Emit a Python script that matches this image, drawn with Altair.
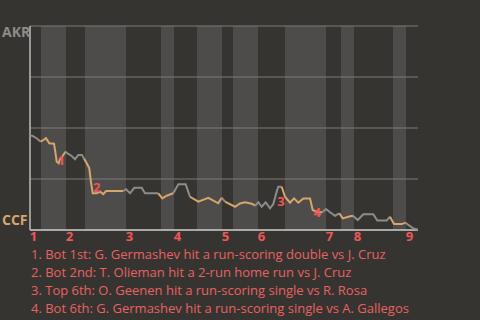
import altair as alt
import pandas as pd
import bisect

# Game progress (x) and AKR win probability in % (y)
prog = [0, 2.3, 6.7, 10.7, 13.3, 16, 19.3, 24, 25.3, 26.7, 28.7, 30, 32, 35.7, 38.3, 41.7, 45, 48.3,
        52, 54, 56.7, 59.3, 60.7, 62.7, 66.7, 70, 73.3, 76, 93.3, 96, 100, 104.3, 111.7, 115, 128.3,
        132.3, 136.7, 143.3, 148.3, 155.7, 160, 168.3, 178.3, 188.3, 191.7, 195, 205, 210, 215, 221.7,
        225, 228.3, 231.7, 235.7, 240, 243.3, 246.7, 248.3, 251.7, 255, 260, 264, 268.3, 273.3, 280,
        282.7, 287.3, 292.3, 296, 300, 305, 309.3, 312.7, 321, 323.3, 327.7, 333.3, 343.3, 347.3,
        356.7, 360, 364, 371.7, 375.7, 378.3, 383.3, 387.7]
akr_wp = [46.2, 46.2, 45.0, 43.3, 44.1, 45.0, 42.5, 42.3, 38.4, 33.5, 32.7, 34.7, 35.9, 38.4, 37.3, 36.3,
          34.7, 36.8, 36.8, 35.1, 32.7, 30.2, 24.5, 18.0, 18.0, 18.8, 17.6, 19.1, 19.1, 20.0, 18.0, 20.7,
          20.7, 18.0, 18.0, 15.5, 16.8, 18.0, 22.4, 22.4, 16.3, 13.9, 15.8, 13.1, 15.8, 13.9, 11.4, 13.0,
          13.6, 12.9, 11.9, 13.6, 11.4, 13.6, 10.6, 12.7, 18.8, 21.2, 21.2, 16.3, 13.4, 15.5, 13.4, 15.5,
          15.5, 9.8, 8.7, 8.7, 10.3, 8.7, 7.0, 8.2, 5.7, 6.9, 6.9, 4.9, 7.7, 7.7, 4.6, 4.6, 6.5, 2.9, 2.9,
          3.6, 2.5, 0.8, 0.3]

# Half-inning boundaries (game progress)
half_edges = [0, 11, 36, 55, 96, 131, 144, 167, 192, 203, 228, 255, 296, 311, 324, 363, 376, 388]
inning_labels = ["1", "2", "3", "4", "5", "6", "7", "8", "9"]

event_nums = ["1", "2", "3", "4"]
event_x = [31.3, 66.7, 251, 287.3]
event_y = [34.0, 20.4, 13.6, 8.2]
notes = [
    "1. Bot 1st: G. Germashev hit a run-scoring double vs J. Cruz",
    "2. Bot 2nd: T. Olieman hit a 2-run home run vs J. Cruz",
    "3. Top 6th: O. Geenen hit a run-scoring single vs R. Rosa",
    "4. Bot 6th: G. Germashev hit a run-scoring single vs A. Gallegos",
]

BG = "#363430"
BAND = "#4e4c4a"
GRAY = "#8c8c8c"
ORANGE = "#d6a66c"
RED = "#f05656"
FONT = "Open Sans"

X = alt.Scale(domain=[0, 388], nice=False, zero=False)
Y = alt.Scale(domain=[0, 100], nice=False)


def xq(f):
    return alt.X(f, type="quantitative", scale=X, axis=None)


def yq(f):
    return alt.Y(f, type="quantitative", scale=Y, axis=None)


# bands (bottom halves lighter)
bot_x0 = half_edges[1:-1:2]
bot_x1 = half_edges[2::2]
bands = pd.DataFrame({"x0": bot_x0, "x1": bot_x1, "y0": [0] * len(bot_x0), "y1": [100] * len(bot_x0)})
band_layer = alt.Chart(bands).mark_rect(color=BAND).encode(
    x=xq("x0"), x2="x1", y=yq("y0"), y2="y1")

# grid
grid = pd.DataFrame({"v": [25, 50, 75, 100], "x0": [0] * 4, "x1": [388] * 4})
grid_layer = alt.Chart(grid).mark_rule(color="#7c7b79", strokeWidth=1).encode(
    y=yq("v"), x=xq("x0"), x2="x1")
base = pd.DataFrame({"v": [0], "x0": [0], "x1": [388]})
base_layer = alt.Chart(base).mark_rule(color="#cfcfcf", strokeWidth=1.5).encode(
    y=yq("v"), x=xq("x0"), x2="x1")
left = pd.DataFrame({"x": [0], "y0": [0], "y1": [100]})
left_layer = alt.Chart(left).mark_rule(color="#bdbdbd", strokeWidth=1.5).encode(
    x=xq("x"), y=yq("y0"), y2="y1")

# line segments coloured by half-inning
seg_pts = {}
for i, (px, py) in enumerate(zip(prog, akr_wp)):
    h = min(bisect.bisect_right(half_edges, px) - 1, len(half_edges) - 2)
    seg_pts.setdefault(h, []).append((i, px, py))
rows = []
order_keys = sorted(seg_pts)
for k_i, k in enumerate(order_keys):
    pts = seg_pts[k]
    if k_i > 0:
        pts = [seg_pts[order_keys[k_i - 1]][-1]] + pts
    for (i, px, py) in pts:
        rows.append({"seg": int(k), "x": float(px), "y": float(py), "half": "top" if k % 2 == 0 else "bot"})
line_df = pd.DataFrame(rows)
line_layer = alt.Chart(line_df).mark_line(strokeWidth=2).encode(
    x=xq("x"), y=yq("y"),
    detail="seg:N",
    color=alt.Color("half:N", scale=alt.Scale(domain=["top", "bot"], range=[GRAY, ORANGE]), legend=None),
)

# event numbers
ev = pd.DataFrame({"n": event_nums, "x": event_x, "y": event_y})
ev_layer = alt.Chart(ev).mark_text(color=RED, font=FONT, fontSize=13, fontWeight="bold").encode(
    x=xq("x"), y=yq("y"), text="n:N")

# inning labels
inn = pd.DataFrame({"lab": inning_labels, "x": half_edges[0:-1:2]})
inn_layer = alt.Chart(inn).mark_text(color=RED, font=FONT, fontSize=13, fontWeight="bold",
                                      align="center", baseline="middle", dx=3.5).encode(
    x=xq("x"), y=alt.value(211), text="lab:N")

# team labels
akr_layer = alt.Chart(pd.DataFrame({"t": ["AKR"], "v": [100]})).mark_text(
    font=FONT, fontSize=14, fontWeight="bold", align="left", baseline="top", dy=0, color=GRAY
).encode(x=alt.value(-28), y=yq("v"), text="t:N")
ccf_layer = alt.Chart(pd.DataFrame({"t": ["CCF"], "v": [0]})).mark_text(
    font=FONT, fontSize=14, fontWeight="bold", align="left", baseline="bottom", dy=-2, color=ORANGE
).encode(x=alt.value(-28), y=yq("v"), text="t:N")

layers = [band_layer, grid_layer, base_layer, left_layer, line_layer, ev_layer, inn_layer,
          akr_layer, ccf_layer]

# notes below the plot
for k, note in enumerate(notes):
    layers.append(
        alt.Chart(pd.DataFrame({"note": [note]})).mark_text(
            color="#e86262", font=FONT, fontSize=13, align="left", baseline="middle"
        ).encode(x=alt.value(1), y=alt.value(228.5 + 18 * k), text="note:N")
    )

chart = alt.layer(*layers).properties(
    width=388, height=204,
    autosize=alt.AutoSizeParams(type="none"),
    padding={"left": 30, "top": 26, "right": 62, "bottom": 90},
    background=BG,
).configure_view(strokeWidth=0)

chart.save("out.html", embed_options={"renderer": "svg", "actions": False})
